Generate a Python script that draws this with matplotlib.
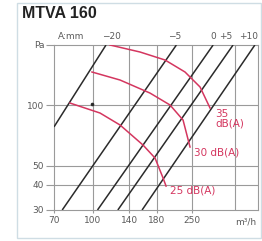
import matplotlib
matplotlib.use("Agg")
import matplotlib.pyplot as plt
from matplotlib.patches import Rectangle
from matplotlib.ticker import FixedLocator, NullLocator

# ---- data -------------------------------------------------------------
title = "MTVA 160"
x_ticks = [70, 100, 140, 180, 250]
x_tick_labels = ["70", "100", "140", "180", "250"]
x_grid = [100, 140, 180, 250, 370]
y_ticks = [30, 40, 50, 100, 200]
y_tick_labels = ["30", "40", "50", "100", "Pa"]
y_grid = [40, 50, 100]

# damper setting lines (A, mm): flow m3/h and pressure Pa
a_labels = ["\u221220", "\u22125", "0", "+5", "+10"]
a_flow = [[70, 113], [75.5, 216], [104.5, 303], [126, 364], [157.5, 445]]
a_pres = [[78, 200], [30, 200], [30, 200], [30, 200], [30, 200]]

# sound level curves
db_labels = ["35\ndB(A)", "30 dB(A)", "25 dB(A)"]
db_flow = [
    [117.2, 154.6, 194.6, 233.9, 268.6, 294.5],
    [99.3, 128.6, 169.4, 203.8, 229.7, 244.9],
    [81.1, 106.9, 128.6, 158.9, 177.5, 191.0, 196.4],
]
db_pres = [
    [200, 184.5, 168.3, 146.6, 123.4, 96.9],
    [146.6, 133.7, 115.1, 100.3, 84.4, 61.9],
    [102.6, 91.5, 79.7, 63.3, 54.5, 43.4, 39.5],
]
dot_flow = [99.3]
dot_pres = [101]

# ---- figure -------------------------------------------------------------
W, H = 262, 241
fig = plt.figure(figsize=(W / 100, H / 100), dpi=100)
fig.patch.set_facecolor("white")

# light frame around the panel
fig.add_artist(Rectangle((17 / W, 3 / H), (261 - 17) / W, (238 - 3) / H,
                         transform=fig.transFigure, fill=False,
                         edgecolor="#cfdde4", linewidth=1.0))
fig.text(22 / W, 1 - 13.5 / H, title, fontsize=11.5, fontweight="bold",
         family="Liberation Sans", color="#222222", va="center", ha="left")

ax = fig.add_axes([54 / W, 1 - 210 / H, (258 - 54) / W, (210 - 45) / H])
ax.set_xscale("log")
ax.set_yscale("log")
ax.set_xlim(70, 458)
ax.set_ylim(30, 200)

grid_c = "#9a9a9a"
txt_c = "#5a5a5a"
for s in ax.spines.values():
    s.set_color(grid_c)
    s.set_linewidth(0.8)
for g in x_grid:
    ax.axvline(g, color=grid_c, lw=0.8, zorder=1)
for g in y_grid:
    ax.axhline(g, color=grid_c, lw=0.8, zorder=1)

ax.xaxis.set_major_locator(FixedLocator(x_ticks))
ax.xaxis.set_minor_locator(NullLocator())
ax.set_xticklabels(x_tick_labels)
ax.yaxis.set_major_locator(FixedLocator(y_ticks))
ax.yaxis.set_minor_locator(NullLocator())
ax.set_yticklabels(y_tick_labels)
ax.tick_params(axis="y", length=6, width=0.8, color=grid_c, pad=1,
               labelsize=6.5, labelcolor=txt_c)
ax.tick_params(axis="x", length=2.5, width=0.8, color=grid_c, pad=2,
               labelsize=6.5, labelcolor=txt_c)
for lab in ax.get_xticklabels() + ax.get_yticklabels():
    lab.set_family("DejaVu Sans")

ax.text(0.99, -0.075, "m\u00b3/h", transform=ax.transAxes, ha="right",
        va="center", fontsize=6.5, color=txt_c, clip_on=False)

# damper lines; label offsets (points) nudge texts as in the reference
label_dx = [3.6, -1.5, 0, -5, -4.5]
for lab, fq, fp, dx in zip(a_labels, a_flow, a_pres, label_dx):
    ax.plot(fq, fp, color="#2b2b2b", lw=1.1, zorder=3, solid_capstyle="butt")
    ax.annotate(lab, xy=(fq[-1], 200), xytext=(dx, 6), textcoords="offset points",
                ha="center", va="center", fontsize=6.5, color=txt_c,
                annotation_clip=False)
ax.annotate("A:mm", xy=(70, 200), xytext=(12, 6), textcoords="offset points",
            ha="center", va="center", fontsize=6.5, color=txt_c,
            annotation_clip=False)

# sound curves
red = "#d4365f"
label_off = [(4, -8), (3, -4), (3, -3)]
for lab, fq, fp, off in zip(db_labels, db_flow, db_pres, label_off):
    ax.plot(fq, fp, color=red, lw=1.1, zorder=4)
    ax.annotate(lab, xy=(fq[-1], fp[-1]), xytext=off,
                textcoords="offset points", ha="left", va="center",
                fontsize=7.5, color=red, linespacing=0.95,
                annotation_clip=False)

ax.plot(dot_flow, dot_pres, "o", color="#2b2b2b", ms=1.6, zorder=5)

fig.savefig("out.png", dpi=100, facecolor="white")
